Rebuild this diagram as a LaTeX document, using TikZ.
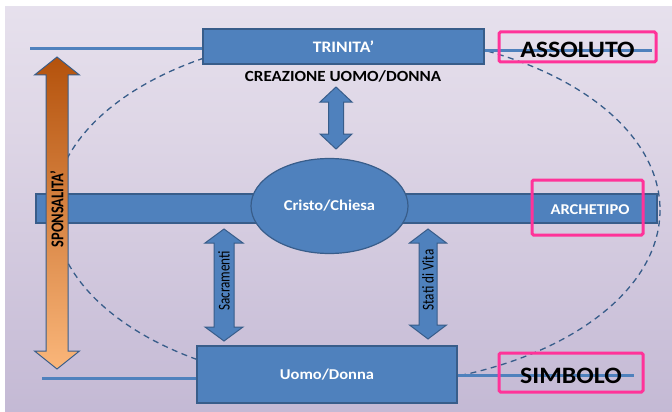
\documentclass[tikz,border=0pt]{standalone}
\usepackage{fontspec}
\setmainfont[FakeStretch=1.1]{Carlito}
\newfontfamily\narrowfont[FakeStretch=0.8]{Carlito}
\usetikzlibrary{shapes.geometric}
\definecolor{boxblue}{RGB}{79,129,189}
\definecolor{boxline}{RGB}{56,93,138}
\definecolor{hotpink}{RGB}{255,51,153}
\definecolor{bgtop}{RGB}{244,242,248}
\definecolor{bgmid}{RGB}{222,214,230}
\definecolor{bgdark}{RGB}{192,181,210}
\definecolor{bgbot}{RGB}{212,203,226}
\definecolor{orangetop}{RGB}{180,82,12}
\definecolor{orangebot}{RGB}{250,182,122}
\pgfdeclareverticalshading{bgshade}{100bp}{color(0bp)=(bgbot); color(20bp)=(bgdark); color(60bp)=(bgmid); color(100bp)=(bgtop)}
\def\dblarrow[#1](#2:#3:#4)(#5:#6:#7){\draw[#1] (#2,#3) -- ({#2+#5},{#3+#7}) -- ({#2+#6},{#3+#7}) -- ({#2+#6},{#4-#7}) -- ({#2+#5},{#4-#7}) -- (#2,#4) -- ({#2-#5},{#4-#7}) -- ({#2-#6},{#4-#7}) -- ({#2-#6},{#3+#7}) -- ({#2-#5},{#3+#7}) -- cycle;}
\tikzset{
  bluebox/.style={draw=boxline, fill=boxblue, line width=1.2pt, text=white, font=\bfseries\fontsize{15}{17}\selectfont},
  pinkbox/.style={draw=hotpink, line width=3pt, rounded corners=1.5pt, text height=21pt, font=\bfseries\fontsize{23.5}{26}\selectfont},
  level/.style={boxblue, line width=3pt},
  arrowtext/.style={font=\narrowfont\fontsize{16.5}{18}\selectfont, rotate=90}
}
\begin{document}
\begin{tikzpicture}[x=1pt,y=-1pt]
  \useasboundingbox (0,0) rectangle (672,412);
  %%%%% background %%%%%
  \fill[white] (0,0) rectangle (672,412);
  \shade[shading=bgshade] (5,7) rectangle (672,412);

  %%%%% dashed ring %%%%%
  \draw[boxline, line width=1.3pt, dash pattern=on 6pt off 4.5pt] (357,210) ellipse (303 and 176);

  %%%%% levels %%%%%
  \node[bluebox, minimum width=281pt, minimum height=35pt, font=\bfseries\fontsize{16}{18}\selectfont] (trinita) at (343.5,46.5) {TRINITA’};
  \node[bluebox, minimum width=260pt, minimum height=57pt] (uomo) at (327,374.5) {Uomo/Donna};
  \coordinate (topleft) at (30,49);
  \coordinate (topright) at (652,51);
  \coordinate (botleft) at (42,378);
  \coordinate (botright) at (634,375);
  \draw[level] (topleft) -- (topleft -| trinita.west);
  \draw[level] (topright -| trinita.east) -- (topright);
  \draw[level] (botleft) -- (botleft -| uomo.west);
  \draw[level] (botright -| uomo.east) -- (botright);

  \draw[bluebox] (36,194) rectangle (657,223);
  \node[bluebox, ellipse, minimum width=157pt, minimum height=95pt] (cristo) at (329.5,206) {Cristo/Chiesa};
  \node[text=white, font=\bfseries\fontsize{15}{17}\selectfont] (archetipo) at (590,210) {ARCHETIPO};

  \node[font=\bfseries\fontsize{15.5}{17}\selectfont] (creazione) at (343,76) {CREAZIONE UOMO/DONNA};

  %%%%% arrows %%%%%
  \dblarrow[draw=boxline, fill=boxblue, line width=1pt](336:87:149)(16:7.5:15)
  \dblarrow[draw=boxline, fill=boxblue, line width=1pt](224:229:341)(19:10:14)
  \dblarrow[draw=boxline, fill=boxblue, line width=1pt](428:229:339)(18.5:9:14)
  \dblarrow[draw=boxline, top color=orangetop, bottom color=orangebot, line width=1pt](57:57:369)(22.5:11:18)
  \node[arrowtext] (sacramenti) at (224,281) {Sacramenti};
  \node[arrowtext] (stati) at (428,280) {Stati di Vita};
  \node[arrowtext, font=\narrowfont\bfseries\fontsize{18}{20}\selectfont] (sponsalita) at (57,209) {SPONSALITA’};

  %%%%% labels %%%%%
  \node[pinkbox, minimum width=157pt, minimum height=30pt] (assoluto) at (577.5,47) {ASSOLUTO};
  \draw[hotpink, line width=3pt, rounded corners=1.5pt] (532,180) rectangle (643,235);
  \node[pinkbox, minimum width=144pt, minimum height=39pt, text height=22pt] (simbolo) at (571,372.5) {SIMBOLO};
\end{tikzpicture}
\end{document}
